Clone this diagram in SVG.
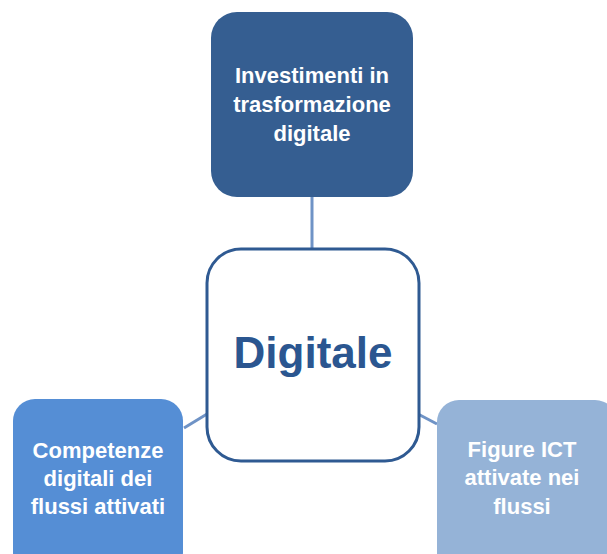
<svg xmlns="http://www.w3.org/2000/svg" width="607" height="554" viewBox="0 0 607 554">
<style>
.box{stroke:none}
.lbl{font-family:"Liberation Sans",Arial,sans-serif;font-weight:bold;font-size:22px;fill:#ffffff;text-anchor:middle}
.conn{stroke:#6F93C6;stroke-width:3;fill:none}
</style>
<rect width="607" height="554" fill="#ffffff"/>
<g id="connectors">
<line class="conn" x1="312" y1="197" x2="312" y2="250"/>
<line class="conn" x1="184" y1="428" x2="207" y2="414"/>
<line class="conn" x1="418" y1="414" x2="437" y2="424"/>
</g>
<g id="node-investimenti">
<rect class="box" x="211" y="12" width="202" height="185" rx="26" fill="#355E91"/>
<text class="lbl" x="312" y="83">Investimenti in</text>
<text class="lbl" x="312" y="112">trasformazione</text>
<text class="lbl" x="312" y="141">digitale</text>
</g>
<g id="node-digitale">
<rect x="207" y="249" width="212" height="212" rx="34" fill="#ffffff" stroke="#2F5A92" stroke-width="3"/>
<text x="313" y="368" font-family="'Liberation Sans',Arial,sans-serif" font-weight="bold" font-size="44" fill="#2B5690" text-anchor="middle">Digitale</text>
</g>
<g id="node-competenze">
<rect class="box" x="13" y="399" width="170" height="175" rx="22" fill="#558ED5"/>
<text class="lbl" x="98" y="458">Competenze</text>
<text class="lbl" x="98" y="486">digitali dei</text>
<text class="lbl" x="98" y="514">flussi attivati</text>
</g>
<g id="node-figure">
<rect class="box" x="437" y="400" width="180" height="175" rx="22" fill="#95B3D7"/>
<text class="lbl" x="522" y="457">Figure ICT</text>
<text class="lbl" x="522" y="485">attivate nei</text>
<text class="lbl" x="522" y="514">flussi</text>
</g>
</svg>
